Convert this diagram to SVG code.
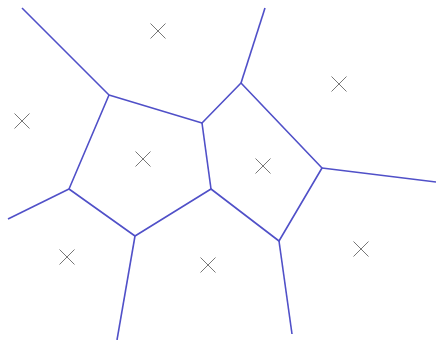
<svg xmlns="http://www.w3.org/2000/svg" width="436" height="340" viewBox="0 0 436 340">
<style>
.edge{stroke:#5050c8;stroke-width:1.6;fill:none;stroke-linejoin:round}
.site{stroke:#777;stroke-width:1;fill:none}
</style>
<defs>
<path id="x" class="site" d="M-7.5,-7.5L7.5,7.5M-7.5,7.5L7.5,-7.5"/>
</defs>
<rect width="436" height="340" fill="#fff"/>
<g id="connectors">
<polyline class="edge" points="109,95 202,123 241,83 322,168 279,241 211,189 135,236 69,189 109,95"/>
<line class="edge" x1="202" y1="123" x2="211" y2="189"/>
<line class="edge" x1="109" y1="95" x2="22" y2="8"/>
<line class="edge" x1="241" y1="83" x2="265" y2="8"/>
<line class="edge" x1="322" y1="168" x2="436" y2="182"/>
<line class="edge" x1="279" y1="241" x2="292" y2="334"/>
<line class="edge" x1="135" y1="236" x2="117" y2="340"/>
<line class="edge" x1="69" y1="189" x2="8" y2="219"/>
</g>
<g id="site1"><use href="#x" x="158" y="31"/></g>
<g id="site2"><use href="#x" x="22" y="121"/></g>
<g id="site3"><use href="#x" x="143" y="159"/></g>
<g id="site4"><use href="#x" x="339" y="84"/></g>
<g id="site5"><use href="#x" x="263" y="166"/></g>
<g id="site6"><use href="#x" x="67" y="257"/></g>
<g id="site7"><use href="#x" x="208" y="265"/></g>
<g id="site8"><use href="#x" x="361" y="249"/></g>
</svg>
